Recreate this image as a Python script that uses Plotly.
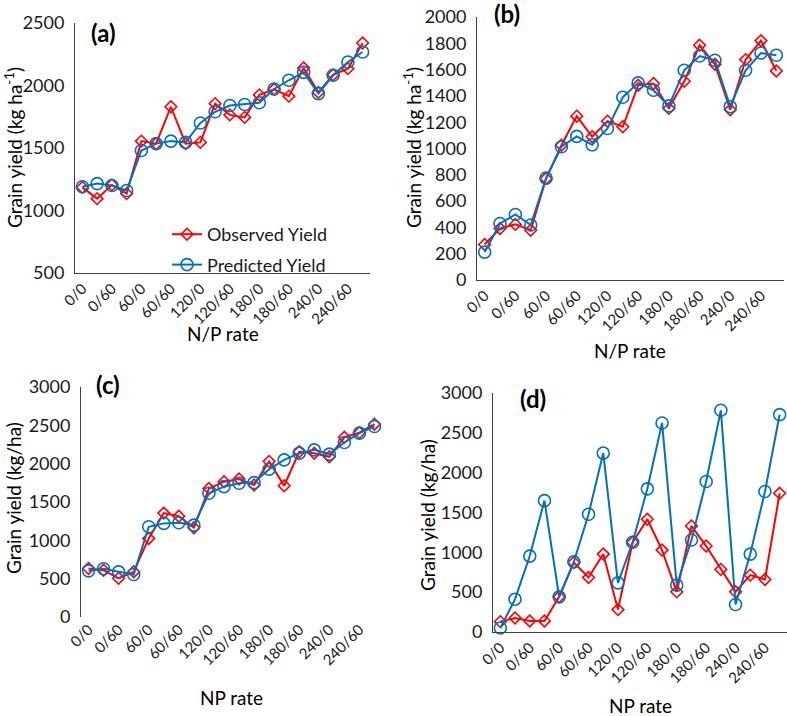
import plotly.graph_objects as go

categories = ["0/0", "0/30", "0/60", "0/90",
              "60/0", "60/30", "60/60", "60/90",
              "120/0", "120/30", "120/60", "120/90",
              "180/0", "180/30", "180/60", "180/90",
              "240/0", "240/30", "240/60", "240/90"]
tick_labels = categories[::2]

obs_a = [1185, 1095, 1205, 1135, 1555, 1535, 1830, 1535, 1545, 1855, 1765, 1745,
         1925, 1970, 1915, 2140, 1945, 2085, 2135, 2340]
pred_a = [1190, 1215, 1200, 1160, 1480, 1535, 1555, 1545, 1700, 1790, 1840, 1848,
          1862, 1972, 2042, 2105, 1935, 2082, 2188, 2268]

obs_b = [270, 392, 423, 378, 772, 1025, 1246, 1089, 1208, 1165, 1481, 1494,
         1305, 1511, 1785, 1640, 1295, 1676, 1820, 1590]
pred_b = [212, 430, 498, 418, 775, 1013, 1092, 1028, 1152, 1390, 1499, 1443,
          1324, 1595, 1703, 1671, 1318, 1595, 1726, 1709]

obs_c = [633, 611, 505, 589, 1025, 1355, 1315, 1165, 1675, 1765, 1800, 1723,
         2030, 1712, 2155, 2137, 2090, 2345, 2405, 2515]
pred_c = [602, 630, 589, 554, 1177, 1221, 1230, 1199, 1614, 1700, 1745, 1753,
          1928, 2050, 2137, 2180, 2125, 2276, 2399, 2485]

obs_d = [130, 176, 139, 139, 441, 873, 684, 978, 281, 1126, 1415, 1028,
         504, 1331, 1079, 786, 504, 714, 660, 1742]
pred_d = [50, 412, 953, 1649, 441, 881, 1478, 2246, 617, 1126, 1797, 2624,
          588, 1155, 1889, 2783, 345, 978, 1763, 2728]

W, H = 787, 716
RED = "#FF0000"
BLUE = "#0070C0"
FONT = "Lato"
TXT = "#1a1a1a"

def px_x(v):
    return v / W

def px_y(v):
    return 1 - v / H

panels = [
    # (obs, pred, x0, x1, ytop, ybottom, yrange, dtick, show x line)
    (obs_a, pred_a, 75, 370, 23, 273, [500, 2500], 500, True),
    (obs_b, pred_b, 477, 784, 17, 280, [0, 2000], 200, True),
    (obs_c, pred_c, 81, 382, 387, 617, [0, 3000], 500, False),
    (obs_d, pred_d, 493, 787, 393, 632, [0, 3000], 500, True),
]

fig = go.Figure()
layout = {}
for i, (obs, pred, x0, x1, yt, yb, yr, dt, xline) in enumerate(panels):
    n = "" if i == 0 else str(i + 1)
    fig.add_trace(go.Scatter(
        x=categories, y=obs, mode="lines+markers", name="Observed Yield",
        xaxis="x" + n, yaxis="y" + n, legendgroup="obs", showlegend=(i == 0),
        line=dict(color=RED, width=2),
        marker=dict(symbol="diamond-open", size=9, color=RED, line=dict(width=1.6, color=RED)),
        cliponaxis=False,
    ))
    fig.add_trace(go.Scatter(
        x=categories, y=pred, mode="lines+markers", name="Predicted Yield",
        xaxis="x" + n, yaxis="y" + n, legendgroup="pred", showlegend=(i == 0),
        line=dict(color=BLUE, width=2),
        marker=dict(symbol="circle-open", size=12, color=BLUE, line=dict(width=1.6, color=BLUE)),
        cliponaxis=False,
    ))
    layout["xaxis" + n] = dict(
        domain=[px_x(x0), min(px_x(x1), 1)], anchor="y" + n, type="category",
        categoryorder="array", categoryarray=categories,
        range=[-0.5, 19.5], tickmode="array", tickvals=tick_labels, ticktext=tick_labels,
        tickangle=-45, tickfont=dict(family=FONT, size=15, color=TXT),
        showline=xline, linecolor="#404040", linewidth=1, showgrid=False, zeroline=False,
        ticks="", automargin=False,
    )
    layout["yaxis" + n] = dict(
        domain=[px_y(yb), px_y(yt)], anchor="x" + n, range=yr, dtick=dt,
        tickfont=dict(family=FONT, size=18, color=TXT),
        showline=True, linecolor="#404040", linewidth=1, showgrid=False, zeroline=False,
        ticks="", ticklabelstandoff=6, automargin=False,
    )

annotations = []
def ann(text, x, y, size, bold=False, angle=0):
    annotations.append(dict(
        text=("<b>%s</b>" % text) if bold else text, x=px_x(x), y=px_y(y),
        xref="paper", yref="paper", showarrow=False, textangle=angle,
        font=dict(family=FONT, size=size, color="black"),
        xanchor="center", yanchor="middle",
    ))

ann("(a)", 103, 33, 24, bold=True)
ann("(b)", 507, 13, 24, bold=True)
ann("(c)", 108, 384, 24, bold=True)
ann("(d)", 533, 398, 24, bold=True)

ann("Grain yield (kg ha<sup>-1</sup>)", 13, 148, 19, angle=-90)
ann("Grain yield (kg ha<sup>-1</sup>)", 412, 148, 19, angle=-90)
ann("Grain yield (kg/ha)", 13, 498, 19, angle=-90)
ann("Grain yield (kg/ha)", 427, 515, 19, angle=-90)

ann("N/P rate", 223, 334, 19)
ann("N/P rate", 630, 350, 19)
ann("NP rate", 232, 697, 19)
ann("NP rate", 640, 705, 19)

fig.update_layout(
    width=W, height=H, margin=dict(l=0, r=0, t=0, b=0, autoexpand=False),
    paper_bgcolor="white", plot_bgcolor="white",
    font=dict(family=FONT, color=TXT),
    showlegend=True,
    legend=dict(x=px_x(167), y=px_y(216), xanchor="left", yanchor="top",
                font=dict(family=FONT, size=18, color=TXT),
                bgcolor="rgba(0,0,0,0)", tracegroupgap=4, traceorder="grouped"),
    annotations=annotations,
    **layout,
)

fig.write_html("out.html", config={"displayModeBar": False},
               post_script="document.body.style.margin='0';document.body.style.overflow='hidden';")
